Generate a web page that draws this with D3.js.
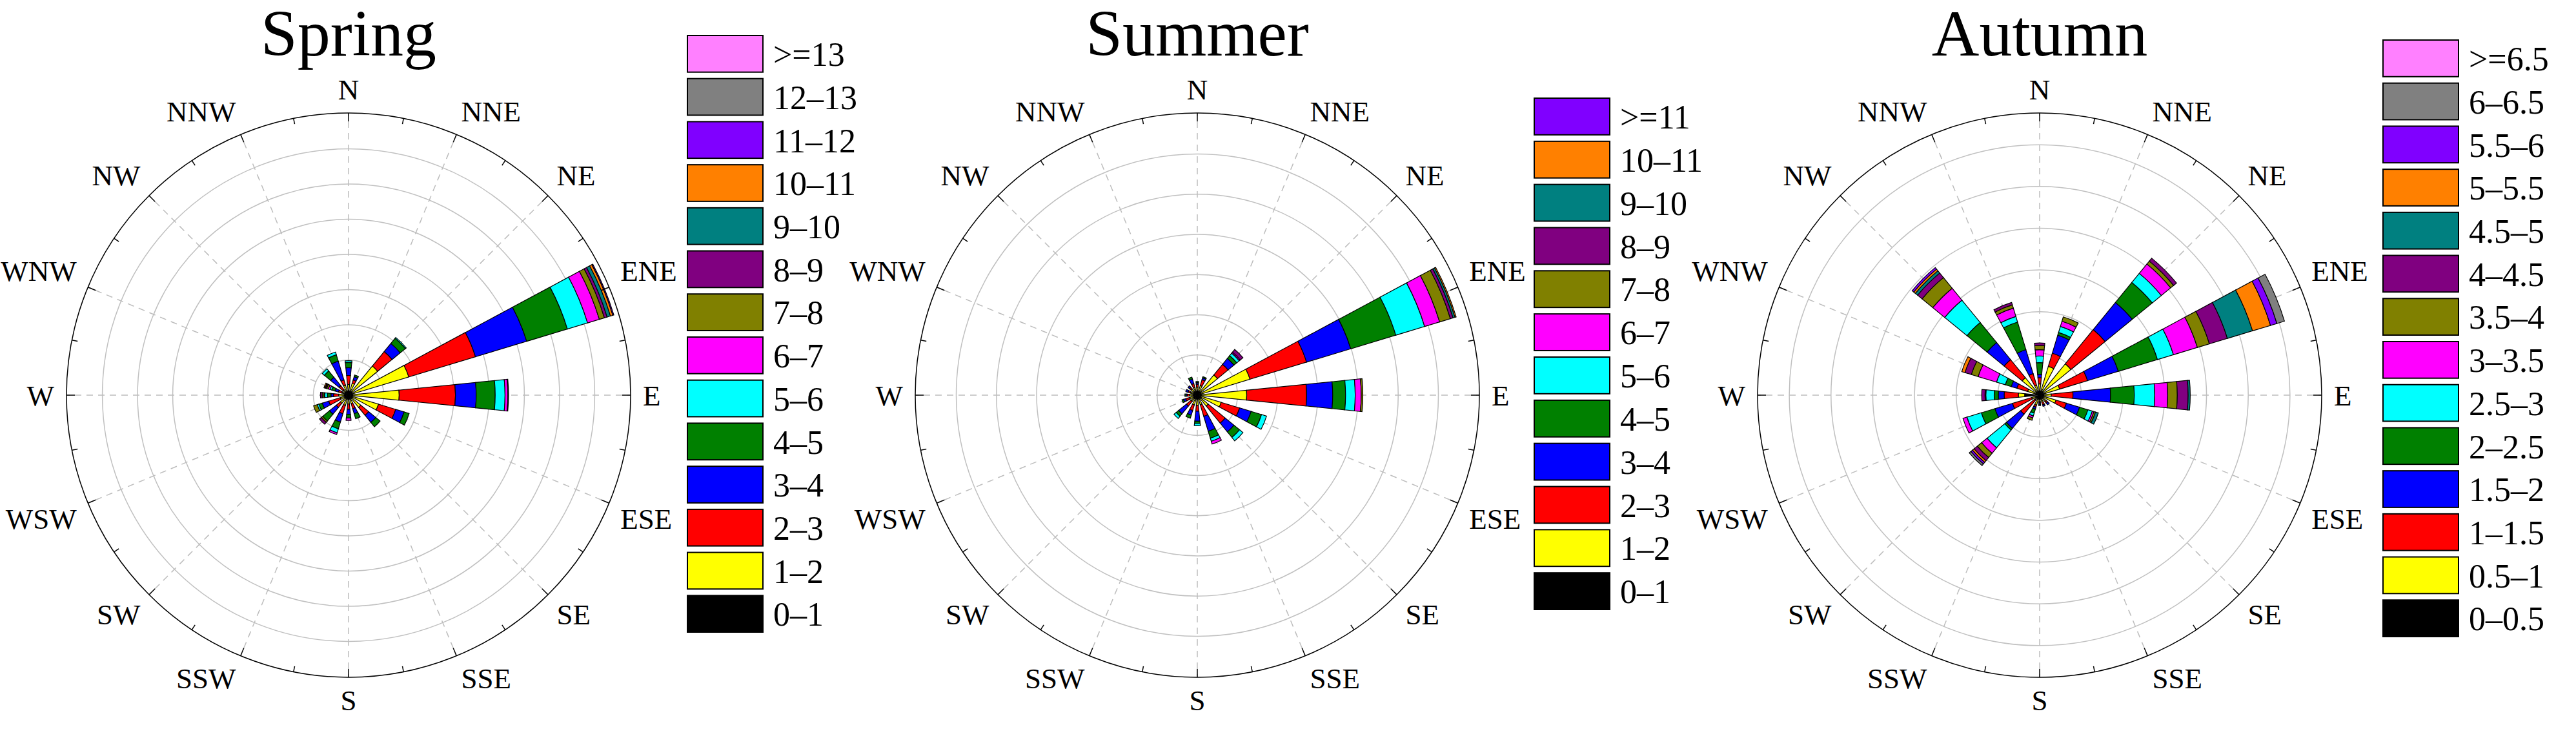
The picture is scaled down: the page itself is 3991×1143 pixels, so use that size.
<!DOCTYPE html>
<html>
<head>
<meta charset="utf-8">
<script src="https://cdn.jsdelivr.net/npm/d3@7"></script>
<style>
  body { margin: 0; background: #fff; }
  text { font-family: "Liberation Serif", "DejaVu Serif", serif; fill: #000; }
</style>
</head>
<body>
<svg id="main" width="3991" height="1143"></svg>
<script>
const directions = ["N", "NNE", "NE", "ENE", "E", "ESE", "SE", "SSE",
  "S", "SSW", "SW", "WSW", "W", "WNW", "NW", "NNW"];

const binColors = ["#000000", "#ffff00", "#ff0000", "#0000ff", "#008000", "#00ffff",
  "#ff00ff", "#808000", "#800080", "#008080", "#ff8000", "#8000ff", "#808080", "#ff80ff"];

const springLabels = ["0–1", "1–2", "2–3", "3–4", "4–5", "5–6", "6–7", "7–8",
  "8–9", "9–10", "10–11", "11–12", "12–13", ">=13"];
const summerLabels = ["0–1", "1–2", "2–3", "3–4", "4–5", "5–6", "6–7", "7–8",
  "8–9", "9–10", "10–11", ">=11"];
const autumnLabels = ["0–0.5", "0.5–1", "1–1.5", "1.5–2", "2–2.5", "2.5–3", "3–3.5",
  "3.5–4", "4–4.5", "4.5–5", "5–5.5", "5.5–6", "6–6.5", ">=6.5"];

// cumulative outer radius of each speed bin, per direction (in grid-ring units)
const springData = [
  [0.12, 0.3, 0.56, 0.78, 0.93, 0.98],
  [0.12, 0.35, 0.45, 0.55, 0.6],
  [0.12, 1.07, 1.6, 1.9, 2.09, 2.12],
  [0.12, 1.79, 3.77, 5.29, 6.5, 7.1, 7.45, 7.6, 7.68, 7.78, 7.85, 7.88],
  [0.12, 1.44, 3.04, 3.63, 4.17, 4.45, 4.53, 4.55],
  [0.12, 0.89, 1.4, 1.65, 1.8],
  [0.12, 0.45, 0.74, 1.0, 1.16],
  [0.12, 0.25, 0.4, 0.55, 0.7],
  [0.12, 0.25, 0.4, 0.55, 0.65, 0.65, 0.72],
  [0.12, 0.3, 0.55, 0.8, 1.0, 1.12, 1.17],
  [0.12, 0.3, 0.45, 0.7, 0.95, 0.95, 0.95, 1.0, 1.07],
  [0.12, 0.25, 0.59, 0.78, 0.88, 0.93, 0.93, 1.04],
  [0.12, 0.28, 0.43, 0.5, 0.6, 0.68, 0.7, 0.75, 0.8],
  [0.12, 0.2, 0.3, 0.4, 0.5, 0.55, 0.6, 0.65, 0.68, 0.7, 0.73],
  [0.12, 0.2, 0.35, 0.66, 0.89, 0.97],
  [0.12, 0.3, 0.45, 1.01, 1.2, 1.28]
];
const summerData = [
  [0.1, 0.2, 0.27, 0.31, 0.34],
  [0.1, 0.25, 0.4, 0.45, 0.48],
  [0.1, 0.65, 0.99, 1.18, 1.27, 1.35, 1.38, 1.38, 1.47],
  [0.1, 1.37, 2.84, 3.99, 5.16, 5.91, 6.3, 6.58, 6.65, 6.7, 6.73],
  [0.1, 1.23, 2.72, 3.37, 3.69, 3.93, 4.08, 4.12],
  [0.1, 0.62, 1.1, 1.4, 1.67, 1.8],
  [0.1, 0.35, 0.9, 1.18, 1.36, 1.47],
  [0.1, 0.25, 0.55, 0.94, 1.12, 1.2, 1.27],
  [0.1, 0.25, 0.4, 0.65, 0.7, 0.76],
  [0.1, 0.25, 0.4, 0.52, 0.6],
  [0.1, 0.2, 0.35, 0.6, 0.68, 0.75],
  [0.1, 0.2, 0.3, 0.36, 0.4],
  [0.1, 0.2, 0.25, 0.28, 0.31],
  [0.1, 0.18, 0.24, 0.3],
  [0.1, 0.2, 0.25, 0.3],
  [0.1, 0.2, 0.3, 0.42, 0.47]
];
const autumnData = [
  [0.1, 0.27, 0.42, 0.5, 0.78, 0.94, 1.09, 1.19, 1.25],
  [0.1, 0.72, 1.05, 1.5, 1.57, 1.72, 1.85, 1.96],
  [0.1, 0.97, 2.03, 2.87, 3.49, 3.77, 4.06, 4.15, 4.24],
  [0.1, 0.5, 1.2, 1.97, 2.95, 3.35, 3.95, 4.25, 4.7, 5.33, 5.78, 5.94, 6.13],
  [0.1, 0.28, 0.8, 1.7, 2.27, 2.76, 3.07, 3.3, 3.56, 3.61],
  [0.1, 0.41, 0.67, 1.0, 1.21, 1.32, 1.36, 1.4, 1.4, 1.47],
  [0.1, 0.2, 0.25, 0.3],
  [0.1, 0.18, 0.24, 0.28],
  [0.1, 0.15, 0.18, 0.22, 0.25],
  [0.1, 0.25, 0.3, 0.35, 0.45, 0.52, 0.57, 0.63],
  [0.1, 0.15, 0.59, 1.03, 1.08, 1.63, 1.8, 1.93, 2.03, 2.03, 2.08, 2.13, 2.18],
  [0.1, 0.2, 0.68, 1.12, 1.46, 1.82, 1.92],
  [0.36, 0.51, 0.85, 0.99, 1.09, 1.29, 1.31, 1.31, 1.39],
  [0.1, 0.3, 0.57, 0.71, 0.86, 1.08, 1.54, 1.71, 1.87, 1.87, 1.95],
  [0.1, 0.54, 1.1, 1.63, 2.25, 2.94, 3.31, 3.64, 3.78, 3.85, 3.9, 3.95],
  [0.1, 0.25, 0.54, 1.14, 1.83, 1.97, 2.18, 2.26, 2.32]
];

const seasons = [
  { title: "Spring", data: springData, labels: springLabels, cx: 540, maxR: 8.02, legendX: 1065, legendY: 55 },
  { title: "Summer", data: summerData, labels: summerLabels, cx: 1855, maxR: 7.02, legendX: 2377, legendY: 152 },
  { title: "Autumn", data: autumnData, labels: autumnLabels, cx: 3160, maxR: 6.76, legendX: 3692, legendY: 62 }
];

const svg = d3.select("#main");
const CY = 612, R = 437;
const toRad = (deg) => deg * Math.PI / 180;

function drawRose(s) {
  const g = svg.append("g").attr("transform", `translate(${s.cx},${CY})`);
  const r = d3.scaleLinear().domain([0, s.maxR]).range([0, R]);
  const angle = d3.scaleLinear().domain([0, 16]).range([0, 360]);

  // grid rings
  g.selectAll("circle.ring")
    .data(d3.range(1, Math.ceil(s.maxR)).filter((k) => r(k) < R - 10))
    .enter().append("circle")
    .attr("r", (k) => r(k))
    .attr("fill", "none").attr("stroke", "#c0c0c0").attr("stroke-width", 1.5);

  // spokes
  g.selectAll("line.spoke")
    .data(directions)
    .enter().append("line")
    .attr("x1", 0).attr("y1", 0)
    .attr("x2", (d, i) => R * Math.sin(toRad(angle(i))))
    .attr("y2", (d, i) => -R * Math.cos(toRad(angle(i))))
    .attr("stroke", "#bdbdbd").attr("stroke-width", 1.5).attr("stroke-dasharray", "10,8");

  // petals
  const arc = d3.arc();
  const half = 5.7;
  s.data.forEach((cum, i) => {
    const a = angle(i);
    cum.forEach((outer, b) => {
      const inner = b === 0 ? 0 : cum[b - 1];
      if (outer <= inner) return;
      g.append("path")
        .attr("d", arc({ innerRadius: r(inner), outerRadius: r(outer),
          startAngle: toRad(a - half), endAngle: toRad(a + half) }))
        .attr("fill", binColors[b]).attr("stroke", "#000").attr("stroke-width", 1.2);
    });
  });

  // outer circle and ticks
  g.append("circle").attr("r", R).attr("fill", "none").attr("stroke", "#000").attr("stroke-width", 1.5);
  g.selectAll("line.tick")
    .data(d3.range(32))
    .enter().append("line")
    .attr("x1", (k) => R * Math.sin(toRad(k * 11.25)))
    .attr("y1", (k) => -R * Math.cos(toRad(k * 11.25)))
    .attr("x2", (k) => (R - (k % 2 ? 9 : 13)) * Math.sin(toRad(k * 11.25)))
    .attr("y2", (k) => -(R - (k % 2 ? 9 : 13)) * Math.cos(toRad(k * 11.25)))
    .attr("stroke", "#000").attr("stroke-width", 1.5);

  // direction labels
  const LR = 456;
  g.selectAll("text.dir")
    .data(directions)
    .enter().append("text")
    .attr("x", (d, i) => LR * Math.sin(toRad(angle(i))))
    .attr("y", (d, i) => -LR * Math.cos(toRad(angle(i))))
    .attr("text-anchor", (d, i) => {
      const x = Math.sin(toRad(angle(i)));
      return Math.abs(x) < 0.01 ? "middle" : x > 0 ? "start" : "end";
    })
    .attr("dy", (d, i) => {
      const y = Math.cos(toRad(angle(i)));
      return Math.abs(y) < 0.01 ? "0.35em" : y > 0 ? "-0.05em" : "0.72em";
    })
    .attr("font-size", 45)
    .text((d) => d);

  // title
  svg.append("text").attr("x", s.cx).attr("y", 86)
    .attr("text-anchor", "middle").attr("font-size", 102).text(s.title);

  // legend (highest bin on top)
  const rows = s.labels.map((l, i) => ({ label: l, color: binColors[i] })).reverse();
  const y = d3.scaleBand().domain(d3.range(rows.length))
    .range([s.legendY, s.legendY + 66 * rows.length]).paddingInner(0.15).paddingOuter(0);
  const lg = svg.append("g");
  lg.selectAll("rect").data(rows).enter().append("rect")
    .attr("x", s.legendX).attr("y", (d, i) => y(i))
    .attr("width", 117).attr("height", y.bandwidth())
    .attr("fill", (d) => d.color).attr("stroke", "#000").attr("stroke-width", 2);
  lg.selectAll("text").data(rows).enter().append("text")
    .attr("x", s.legendX + 133).attr("y", (d, i) => y(i) + y.bandwidth() / 2)
    .attr("dy", "0.36em").attr("font-size", 52).text((d) => d.label);
}

seasons.forEach(drawRose);
</script>
</body>
</html>
